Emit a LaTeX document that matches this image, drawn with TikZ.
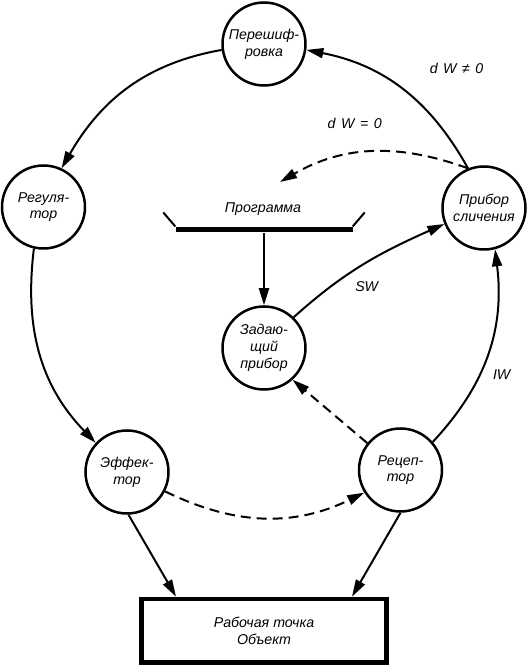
\documentclass[tikz,border=0pt]{standalone}
\usepackage{fontspec}
\setmainfont{Liberation Sans}
\usetikzlibrary{arrows.meta}
\begin{document}
\begin{tikzpicture}[x=1pt, y=1pt,
     font=\itshape\fontsize{14.2}{16.7}\selectfont,
     unit/.style={draw, circle, line width=2.5pt, minimum size=83pt, inner sep=0pt, align=center},
     flow/.style={line width=2pt, -{Triangle[length=17pt,width=10pt]}},
     weak/.style={flow, dash pattern=on 10pt off 6pt}]
\useasboundingbox (0,0) rectangle (528,666);
\node[unit] (per) at (264,622) {Перешиф-\\ровка};
\node[unit] (reg) at (43.5,459) {Регуля-\\тор};
\node[unit] (pri) at (484,458) {Прибор\\сличения};
\node[unit] (zad) at (264,318) {Задаю-\\щий\\прибор};
\node[unit] (eff) at (127,194) {Эффек-\\тор};
\node[unit] (rec) at (400.5,196) {Рецеп-\\тор};
\node[draw, line width=4.7pt, minimum width=245pt, minimum height=63.6pt, align=center] (obj) at (264,35.2) {Рабочая точка\\Объект};
\node[fill, minimum width=177pt, minimum height=5.7pt, inner sep=0pt] (bar) at (264,436.5) {};
\node (prog) at (263,457) {Программа};
\coordinate (back) at (280,484);
\node (ne) at (456.5,598) {d\hspace{5.5pt}W\hspace{5.5pt}≠\hspace{5.5pt}0};
\node (eq) at (354.7,543) {d\hspace{5.5pt}W\hspace{5.5pt}=\hspace{5.5pt}0};
\node (sw) at (366.7,379.3) {SW};
\node (iw) at (501.7,291) {IW};
\draw[line width=2pt] (bar.north west) -- ++(-12,14) (bar.north east) -- ++(12,14);
\draw[flow] (pri.112) to[out=119, in=-11] (per.352);
\draw[flow] (per.188) to[out=190, in=60] (reg.65);
\draw[flow] (reg.257) to[out=263, in=134] (eff.137);
\draw[flow] (rec.41) to[out=47, in=-83] (pri.285);
\draw[flow] (zad.46) to[out=42, in=204] (pri.202);
\draw[flow] (bar) -- (zad);
\draw[flow] (eff.272) -- ([xshift=-88pt]obj.north);
\draw[flow] (rec.270) -- ([xshift=88pt]obj.north);
\draw[weak] (pri.112) to[out=160, in=30] (back);
\draw[weak] (rec.141) -- (zad.312);
\draw[weak] (eff.333) to[out=-26, in=206] (rec.212);
\end{tikzpicture}
\end{document}
